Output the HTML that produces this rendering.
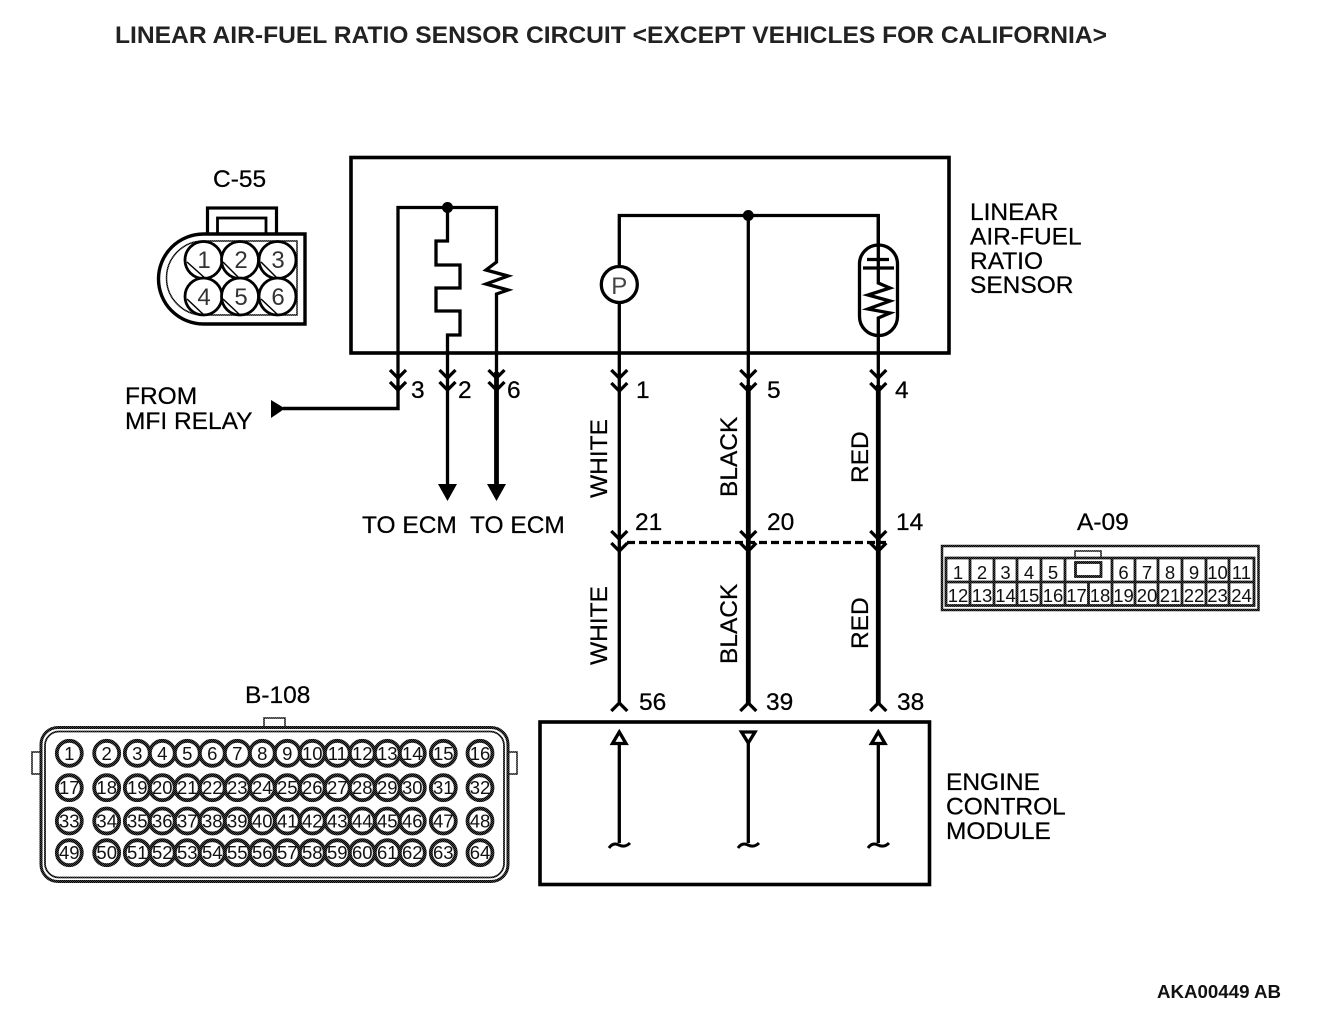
<!DOCTYPE html>
<html><head><meta charset="utf-8">
<style>
html,body{margin:0;padding:0;background:#fff;width:1328px;height:1018px;overflow:hidden}
svg{display:block}
text{font-family:"Liberation Sans",sans-serif;font-size:24.5px;fill:#000;stroke:#000;stroke-width:.25px}
.t{font-weight:bold;fill:#222;font-size:24px;stroke:none}
.a{font-weight:bold;fill:#111;font-size:18px;stroke:none}
.w{fill:none;stroke:#000;stroke-width:3.3;stroke-linejoin:miter}
.th{fill:none;stroke:#000;stroke-width:4.8}
.c{fill:#fff;stroke:url(#d);stroke-width:3.8}
.n{font-size:18.5px;text-anchor:middle;fill:#111;stroke:none}
.m{font-size:18.5px;text-anchor:middle;fill:#111;stroke:none}
.o{font-size:24px;text-anchor:middle;fill:#333;stroke:none}
.dt{fill:none;stroke:url(#d);stroke-width:3}
</style></head><body>
<svg width="1328" height="1018" viewBox="0 0 1328 1018" xmlns="http://www.w3.org/2000/svg">
<defs>
<pattern id="d" width="2" height="2" patternUnits="userSpaceOnUse"><rect width="2" height="2" fill="#444"/><rect width="1" height="1" fill="#000"/><rect x="1" y="1" width="1" height="1" fill="#000"/></pattern>
</defs>
<rect width="1328" height="1018" fill="#fff"/>
<text class="t" x="115" y="43" textLength="992" lengthAdjust="spacingAndGlyphs">LINEAR AIR-FUEL RATIO SENSOR CIRCUIT &lt;EXCEPT VEHICLES FOR CALIFORNIA&gt;</text>

<!-- sensor box -->
<rect x="351" y="157.5" width="598" height="195.5" fill="none" stroke="#000" stroke-width="3.6"/>
<path class="w" d="M398 390V207.5H496.5V262L486 270L508 276L486 284L508 290L496.5 294V372"/>
<path class="w" d="M447.5 207.5V241H436V265H460V288H436V311H460V335H447.5V486"/>
<circle cx="447.5" cy="207.5" r="5.5"/>
<path class="th" style="stroke-width:3.4" d="M398 385V408.5H283"/>
<path d="M271 400L285 408.5L271 418Z"/>
<path d="M438 484H457L447.5 501Z"/>
<path class="th" d="M496.5 372V486"/>
<path d="M487 484H506L496.5 501Z"/>

<path class="w" d="M619.3 284V215.5H878.3V245"/>
<circle cx="748.3" cy="215.5" r="5.5"/>
<circle cx="619.3" cy="284.5" r="18" fill="#fff" stroke="#000" stroke-width="3.3"/>
<text x="619.3" y="294" text-anchor="middle" style="fill:#444;font-size:24px;stroke:none">P</text>
<path class="w" d="M619.3 302.5V703"/>
<path class="w" d="M748.3 215.5V385"/>
<path class="th" d="M748.3 385V703"/>
<rect x="859.5" y="245" width="38" height="90.5" rx="19" fill="#fff" stroke="#000" stroke-width="3.3"/>
<path class="w" d="M878.3 215.5V268M867 259.5H889M863 268H894"/>
<path class="w" d="M878.3 268V283L890 288L868 295L890 301L868 309L890 313L878.3 318V385"/>
<path class="th" d="M878.3 385V703"/>

<!-- chevrons -->
<path class="w" d="M390 370L398 378L406 370M390 382L398 390L406 382M439.5 370L447.5 378L455.5 370M439.5 382L447.500 390L455.500 382M488.500 370L496.500 378L504.500 370M488.500 382L496.500 390L504.500 382"/>
<path class="w" d="M611.300 370L619.300 378L627.300 370M611.300 383L619.300 391L627.300 383M740.300 370L748.300 378L756.300 370M740.300 383L748.300 391L756.300 383M870.300 370L878.300 378L886.300 370M870.300 383L878.300 391L886.300 383"/>
<path class="w" d="M611.300 531L619.300 539L627.300 531M611.300 543L619.300 551L627.300 543M740.300 531L748.300 539L756.300 531M740.300 543L748.300 551L756.300 543M870.300 531L878.300 539L886.300 531M870.300 543L878.300 551L886.300 543"/>
<path class="w" d="M611.300 711L619.300 703L627.300 711M740.300 711L748.300 703L756.300 711M870.300 711L878.300 703L886.300 711"/>
<path class="w" stroke-dasharray="8 4" d="M627 542.500H886"/>

<!-- labels -->
<text x="970" y="220">LINEAR</text>
<text x="970" y="244.500">AIR-FUEL</text>
<text x="970" y="269">RATIO</text>
<text x="970" y="293">SENSOR</text>
<text x="125" y="404">FROM</text>
<text x="125" y="429">MFI RELAY</text>
<text x="411" y="398">3</text><text x="458" y="398">2</text><text x="507" y="398">6</text>
<text x="636" y="398">1</text><text x="767" y="398">5</text><text x="895" y="398">4</text>
<text x="635" y="530">21</text><text x="767" y="530">20</text><text x="896" y="530">14</text>
<text x="639" y="710">56</text><text x="766" y="710">39</text><text x="897" y="710">38</text>
<text x="362" y="533">TO ECM</text><text x="470" y="533">TO ECM</text>
<text x="213" y="187">C-55</text><text x="1077" y="530">A-09</text><text x="245" y="703">B-108</text>
<text x="946" y="790">ENGINE</text><text x="946" y="814.500">CONTROL</text><text x="946" y="839">MODULE</text>
<text class="a" x="1157" y="998" textLength="124" lengthAdjust="spacingAndGlyphs">AKA00449 AB</text>
<text transform="translate(607 498) rotate(-90)">WHITE</text>
<text transform="translate(737 497) rotate(-90)">BLACK</text>
<text transform="translate(868 483) rotate(-90)">RED</text>
<text transform="translate(607 665) rotate(-90)">WHITE</text>
<text transform="translate(737 664) rotate(-90)">BLACK</text>
<text transform="translate(868 649) rotate(-90)">RED</text>

<!-- ECM -->
<rect x="540" y="722" width="389.500" height="162.500" fill="none" stroke="#000" stroke-width="3.600"/>
<path class="w" d="M619.300 743V843M748.300 743V843M878.300 743V843"/>
<path class="w" style="fill:#fff" d="M619.300 732L612.500 743.500H626Z"/>
<path class="w" style="fill:#fff" d="M748.300 743L741.500 732H755Z"/>
<path class="w" style="fill:#fff" d="M878.300 732L871.500 743.500H885Z"/>
<path class="w" style="stroke-width:3" d="M609 848Q613 842 619 845T630 843M738 848Q742 842 748 845T759 843M868 848Q872 842 878 845T889 843"/>

<!-- C-55 -->
<rect x="207.500" y="208" width="69" height="30" fill="#fff" stroke="#000" stroke-width="3.200"/>
<rect x="217.500" y="218" width="48.500" height="20" fill="#fff" stroke="#000" stroke-width="2.800"/>
<path d="M305 234H203.500A45 45 0 0 0 203.500 324H305Z" fill="#fff" stroke="#000" stroke-width="3.400"/>
<path d="M297 241H203.500A37 37 0 0 0 203.500 315H297Z" class="dt" style="stroke-width:1.500"/>
<g fill="#fff" stroke="#000" stroke-width="2.800">
<circle cx="203.500" cy="260" r="18.500"/><circle cx="240" cy="260" r="18.500"/><circle cx="277.500" cy="260" r="18.500"/>
<circle cx="203.500" cy="296.500" r="18.500"/><circle cx="240" cy="296.500" r="18.500"/><circle cx="277.500" cy="296.500" r="18.500"/>
</g>
<path fill="none" stroke="#000" stroke-width="1.500" d="M187 262L206 279M223 262L240 279M261 262L278 279M187 299L204 315M223 299L240 315M261 299L278 315"/>
<text class="o" x="204" y="268">1</text><text class="o" x="241" y="268">2</text><text class="o" x="278" y="268">3</text>
<text class="o" x="204" y="305">4</text><text class="o" x="241" y="305">5</text><text class="o" x="278" y="305">6</text>

<!-- A-09 -->
<rect x="942" y="546" width="316.500" height="64" class="c" style="stroke-width:2.500"/>
<rect x="1075" y="551" width="26" height="7" class="c" style="stroke-width:1.500"/>
<path class="dt" style="stroke-width:2.800" d="M946 558H1254V605.500H946ZM946 582H1254M970 558V605.500M994 558V605.500M1017 558V605.500M1041 558V605.500M1065 558V605.500M1112 558V605.500M1135 558V605.500M1158 558V605.500M1182 558V605.500M1206 558V605.500M1229 558V605.500M1088.500 582V605.500"/>
<rect x="1075.500" y="562.500" width="25.500" height="14" class="dt" style="stroke-width:2.800"/>
<g>
<text class="m" x="958" y="579">1</text><text class="m" x="982" y="579">2</text><text class="m" x="1005.500" y="579">3</text><text class="m" x="1029" y="579">4</text><text class="m" x="1053" y="579">5</text>
<text class="m" x="1123.500" y="579">6</text><text class="m" x="1147" y="579">7</text><text class="m" x="1170" y="579">8</text><text class="m" x="1194" y="579">9</text><text class="m" x="1217.500" y="579">10</text><text class="m" x="1241.500" y="579">11</text>
<text class="m" x="958" y="602">12</text><text class="m" x="982" y="602">13</text><text class="m" x="1005.500" y="602">14</text><text class="m" x="1029" y="602">15</text><text class="m" x="1053" y="602">16</text><text class="m" x="1076.500" y="602">17</text><text class="m" x="1100" y="602">18</text>
<text class="m" x="1123.500" y="602">19</text><text class="m" x="1147" y="602">20</text><text class="m" x="1170" y="602">21</text><text class="m" x="1194" y="602">22</text><text class="m" x="1217.500" y="602">23</text><text class="m" x="1241.500" y="602">24</text>
</g>

<!-- B-108 -->
<rect x="264" y="718" width="21" height="10" class="c" style="stroke-width:1.500"/>
<rect x="32" y="752" width="10" height="22" class="c" style="stroke-width:1.500"/>
<rect x="507" y="752" width="10" height="22" class="c" style="stroke-width:1.500"/>
<rect x="41" y="727.500" width="467" height="154" rx="17" fill="#fff" stroke="url(#d)" stroke-width="3"/>
<rect x="45" y="731.500" width="459" height="146" rx="14" fill="#fff" stroke="url(#d)" stroke-width="1.800"/>
<g>
<circle class="c" cx="69.300" cy="753.300" r="12.500"/><circle class="c" cx="106.700" cy="753.300" r="12.500"/><circle class="c" cx="137.300" cy="753.300" r="12.500"/><circle class="c" cx="162.300" cy="753.300" r="12.500"/><circle class="c" cx="187.300" cy="753.300" r="12.500"/><circle class="c" cx="212.300" cy="753.300" r="12.500"/><circle class="c" cx="237.300" cy="753.300" r="12.500"/><circle class="c" cx="262.300" cy="753.300" r="12.500"/><circle class="c" cx="287.300" cy="753.300" r="12.500"/><circle class="c" cx="312.300" cy="753.300" r="12.500"/><circle class="c" cx="337.300" cy="753.300" r="12.500"/><circle class="c" cx="362.300" cy="753.300" r="12.500"/><circle class="c" cx="387.300" cy="753.300" r="12.500"/><circle class="c" cx="412.300" cy="753.300" r="12.500"/><circle class="c" cx="443.300" cy="753.300" r="12.500"/><circle class="c" cx="480" cy="753.300" r="12.500"/>
<circle class="c" cx="69.300" cy="787.700" r="12.500"/><circle class="c" cx="106.700" cy="787.700" r="12.500"/><circle class="c" cx="137.300" cy="787.700" r="12.500"/><circle class="c" cx="162.300" cy="787.700" r="12.500"/><circle class="c" cx="187.300" cy="787.700" r="12.500"/><circle class="c" cx="212.300" cy="787.700" r="12.500"/><circle class="c" cx="237.300" cy="787.700" r="12.500"/><circle class="c" cx="262.300" cy="787.700" r="12.500"/><circle class="c" cx="287.300" cy="787.700" r="12.500"/><circle class="c" cx="312.300" cy="787.700" r="12.500"/><circle class="c" cx="337.300" cy="787.700" r="12.500"/><circle class="c" cx="362.300" cy="787.700" r="12.500"/><circle class="c" cx="387.300" cy="787.700" r="12.500"/><circle class="c" cx="412.300" cy="787.700" r="12.500"/><circle class="c" cx="443.300" cy="787.700" r="12.500"/><circle class="c" cx="480" cy="787.700" r="12.500"/>
<circle class="c" cx="69.300" cy="821" r="12.500"/><circle class="c" cx="106.700" cy="821" r="12.500"/><circle class="c" cx="137.300" cy="821" r="12.500"/><circle class="c" cx="162.300" cy="821" r="12.500"/><circle class="c" cx="187.300" cy="821" r="12.500"/><circle class="c" cx="212.300" cy="821" r="12.500"/><circle class="c" cx="237.300" cy="821" r="12.500"/><circle class="c" cx="262.300" cy="821" r="12.500"/><circle class="c" cx="287.300" cy="821" r="12.500"/><circle class="c" cx="312.300" cy="821" r="12.500"/><circle class="c" cx="337.300" cy="821" r="12.500"/><circle class="c" cx="362.300" cy="821" r="12.500"/><circle class="c" cx="387.300" cy="821" r="12.500"/><circle class="c" cx="412.300" cy="821" r="12.500"/><circle class="c" cx="443.300" cy="821" r="12.500"/><circle class="c" cx="480" cy="821" r="12.500"/>
<circle class="c" cx="69.300" cy="852.700" r="12.500"/><circle class="c" cx="106.700" cy="852.700" r="12.500"/><circle class="c" cx="137.300" cy="852.700" r="12.500"/><circle class="c" cx="162.300" cy="852.700" r="12.500"/><circle class="c" cx="187.300" cy="852.700" r="12.500"/><circle class="c" cx="212.300" cy="852.700" r="12.500"/><circle class="c" cx="237.300" cy="852.700" r="12.500"/><circle class="c" cx="262.300" cy="852.700" r="12.500"/><circle class="c" cx="287.300" cy="852.700" r="12.500"/><circle class="c" cx="312.300" cy="852.700" r="12.500"/><circle class="c" cx="337.300" cy="852.700" r="12.500"/><circle class="c" cx="362.300" cy="852.700" r="12.500"/><circle class="c" cx="387.300" cy="852.700" r="12.500"/><circle class="c" cx="412.300" cy="852.700" r="12.500"/><circle class="c" cx="443.300" cy="852.700" r="12.500"/><circle class="c" cx="480" cy="852.700" r="12.500"/>
</g>
<g>
<text class="n" x="69.300" y="760">1</text><text class="n" x="106.700" y="760">2</text><text class="n" x="137.300" y="760">3</text><text class="n" x="162.300" y="760">4</text><text class="n" x="187.300" y="760">5</text><text class="n" x="212.300" y="760">6</text><text class="n" x="237.300" y="760">7</text><text class="n" x="262.300" y="760">8</text><text class="n" x="287.300" y="760">9</text><text class="n" x="312.300" y="760">10</text><text class="n" x="337.300" y="760">11</text><text class="n" x="362.300" y="760">12</text><text class="n" x="387.300" y="760">13</text><text class="n" x="412.300" y="760">14</text><text class="n" x="443.300" y="760">15</text><text class="n" x="480" y="760">16</text>
<text class="n" x="69.300" y="794">17</text><text class="n" x="106.700" y="794">18</text><text class="n" x="137.300" y="794">19</text><text class="n" x="162.300" y="794">20</text><text class="n" x="187.300" y="794">21</text><text class="n" x="212.300" y="794">22</text><text class="n" x="237.300" y="794">23</text><text class="n" x="262.300" y="794">24</text><text class="n" x="287.300" y="794">25</text><text class="n" x="312.300" y="794">26</text><text class="n" x="337.300" y="794">27</text><text class="n" x="362.300" y="794">28</text><text class="n" x="387.300" y="794">29</text><text class="n" x="412.300" y="794">30</text><text class="n" x="443.300" y="794">31</text><text class="n" x="480" y="794">32</text>
<text class="n" x="69.300" y="827.500">33</text><text class="n" x="106.700" y="827.500">34</text><text class="n" x="137.300" y="827.500">35</text><text class="n" x="162.300" y="827.500">36</text><text class="n" x="187.300" y="827.500">37</text><text class="n" x="212.300" y="827.500">38</text><text class="n" x="237.300" y="827.500">39</text><text class="n" x="262.300" y="827.500">40</text><text class="n" x="287.300" y="827.500">41</text><text class="n" x="312.300" y="827.500">42</text><text class="n" x="337.300" y="827.500">43</text><text class="n" x="362.300" y="827.500">44</text><text class="n" x="387.300" y="827.500">45</text><text class="n" x="412.300" y="827.500">46</text><text class="n" x="443.300" y="827.500">47</text><text class="n" x="480" y="827.500">48</text>
<text class="n" x="69.300" y="859">49</text><text class="n" x="106.700" y="859">50</text><text class="n" x="137.300" y="859">51</text><text class="n" x="162.300" y="859">52</text><text class="n" x="187.300" y="859">53</text><text class="n" x="212.300" y="859">54</text><text class="n" x="237.300" y="859">55</text><text class="n" x="262.300" y="859">56</text><text class="n" x="287.300" y="859">57</text><text class="n" x="312.300" y="859">58</text><text class="n" x="337.300" y="859">59</text><text class="n" x="362.300" y="859">60</text><text class="n" x="387.300" y="859">61</text><text class="n" x="412.300" y="859">62</text><text class="n" x="443.300" y="859">63</text><text class="n" x="480" y="859">64</text>
</g>
</svg>
</body></html>
